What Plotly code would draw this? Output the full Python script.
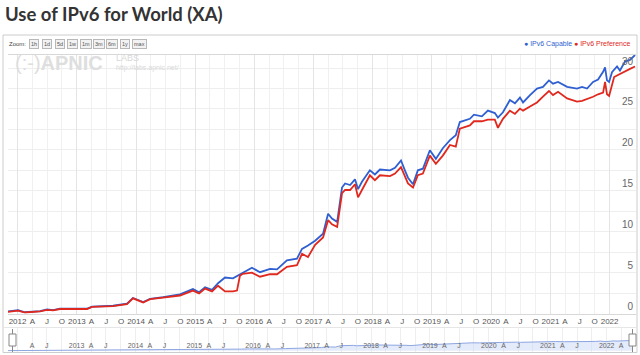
import plotly.graph_objects as go

# ---------------- data ----------------
dates = [
    "2011-11-03", "2012-01-04", "2012-02-16", "2012-05-19", "2012-07-01", "2012-08-07", "2012-09-19",
    "2013-03-05", "2013-04-05", "2013-08-12", "2013-11-06", "2013-12-13",
    "2014-02-14", "2014-03-29", "2014-06-17", "2014-09-29", "2014-12-18",
    "2015-01-25", "2015-03-03", "2015-04-15", "2015-05-22", "2015-07-04", "2015-08-22", "2015-09-16",
    "2015-10-04", "2015-10-22", "2015-12-17",
    "2016-02-05", "2016-04-07", "2016-05-20", "2016-07-20", "2016-09-20", "2016-10-21", "2016-11-27",
    "2017-01-10", "2017-02-28", "2017-03-31", "2017-04-24", "2017-05-26", "2017-06-25", "2017-07-14",
    "2017-08-14", "2017-09-13", "2017-10-02", "2017-10-26", "2017-12-14",
    "2018-01-14", "2018-02-14", "2018-04-17", "2018-05-18", "2018-06-24", "2018-07-18", "2018-08-06",
    "2018-09-06", "2018-10-06", "2018-11-06", "2018-12-19",
    "2019-01-25", "2019-03-09", "2019-04-22", "2019-05-28", "2019-06-22", "2019-08-23", "2019-09-17",
    "2019-11-05", "2019-12-12",
    "2020-01-24", "2020-02-12", "2020-03-14", "2020-04-26", "2020-05-27", "2020-06-27", "2020-07-16",
    "2020-08-28", "2020-10-10", "2020-11-16", "2020-12-23",
    "2021-01-17", "2021-02-17", "2021-04-14", "2021-06-14", "2021-07-15", "2021-08-15", "2021-09-21",
    "2021-10-22", "2021-11-22", "2021-12-04", "2021-12-16", "2021-12-29",
    "2022-01-16", "2022-01-29", "2022-02-16", "2022-03-06", "2022-04-06", "2022-05-07", "2022-06-07",
]
ipv6_capable = [
    0.25, 0.4, 0.15, 0.3, 0.5, 0.42, 0.6,
    0.6, 0.85, 0.95, 1.2, 1.9,
    1.4, 1.8, 2.0, 2.35, 3.0,
    2.6, 3.2, 2.9, 3.7, 4.4, 4.3, 4.6,
    4.8, 4.95, 5.6,
    5.05, 5.45, 5.4, 6.5, 6.7, 7.9, 8.3,
    8.9, 9.75, 12.2, 11.6, 11.2, 15.4, 15.9,
    15.7, 16.4, 15.2, 16.1, 17.5,
    17.0, 17.6, 17.5, 17.8, 18.7, 17.5, 16.6,
    15.8, 17.5, 17.7, 19.95,
    18.9, 20.2, 21.2, 21.8, 23.4, 23.8, 24.3,
    24.1, 24.8,
    24.5, 23.95, 24.6, 26.1, 25.7, 26.4, 25.8,
    26.7, 27.5, 27.7, 28.5,
    28.1, 28.3, 27.7, 27.5, 27.7, 27.5, 28.3,
    28.6, 29.55, 30.1, 28.5, 28.3,
    29.5, 29.8, 30.2, 29.7, 30.8, 31.0, 31.6,
]
ipv6_preference = [
    0.2, 0.35, 0.12, 0.27, 0.45, 0.38, 0.55,
    0.55, 0.8, 0.9, 1.15, 1.85,
    1.35, 1.75, 1.95, 2.2, 2.8,
    2.45, 3.05, 2.7, 3.4, 2.7, 2.7, 2.8,
    4.6, 4.85, 5.0,
    4.5, 4.8, 4.8, 5.7, 5.9, 7.3, 6.9,
    8.4, 9.3, 11.4, 10.9, 10.6, 14.7, 15.1,
    15.1, 15.8, 14.2, 15.1, 16.9,
    16.3, 16.9, 16.8, 17.1, 17.9, 16.9, 15.9,
    15.4, 16.9, 17.1, 19.3,
    18.3, 19.3, 20.6, 20.4, 22.6, 23.0, 23.5,
    23.5, 23.7,
    23.7, 22.7, 23.8, 24.8, 24.4, 25.05, 24.8,
    25.3, 25.8, 26.5, 27.2,
    26.7, 27.1, 26.3, 25.9, 26.0, 26.2, 26.5,
    26.8, 27.0, 28.3, 26.8, 26.6,
    27.8, 28.9, 29.1, 29.3, 29.6, 29.9, 30.2,
]
series_names = ["IPv6 Capable", "IPv6 Preference"]
years = list(range(2012, 2023))
quarter_letters = ["", "A", "J", "O"]
y_labels = [0, 5, 10, 15, 20, 25, 30]
zoom_buttons = ["1h", "1d", "5d", "1w", "1m", "3m", "6m", "1y", "max"]

# ---------------- styling ----------------
W, H = 640, 355
BLUE = "#2f5fd0"
RED = "#e0281e"
FONT = "Liberation Sans, Arial, sans-serif"

def px_x(x):
    return x / W

def px_y(y):
    return (H - y) / H

x_start, x_end = "2011-11-03", "2022-06-13"

quarter_dates, quarter_text, nav_text = [], [], []
for yr in years:
    for qi, m in enumerate([1, 4, 7, 10]):
        if yr == 2022 and m > 4:
            continue
        quarter_dates.append(f"{yr}-{m:02d}-01")
        quarter_text.append(str(yr) if qi == 0 else quarter_letters[qi])
        if qi == 0:
            nav_text.append("" if yr == 2012 else str(yr))
        elif qi == 3:
            nav_text.append("")
        else:
            nav_text.append(quarter_letters[qi])
year_dates = [f"{yr}-01-01" for yr in years]

fig = go.Figure()
fig.add_trace(go.Scatter(x=dates, y=ipv6_capable, name=series_names[0], mode="lines",
                         line=dict(color=BLUE, width=1.8), xaxis="x", yaxis="y"))
fig.add_trace(go.Scatter(x=dates, y=ipv6_preference, name=series_names[1], mode="lines",
                         line=dict(color=RED, width=1.8), xaxis="x", yaxis="y"))
# invisible carrier for the year-grid overlay axis
fig.add_trace(go.Scatter(x=dates, y=ipv6_capable, mode="lines", line=dict(width=0),
                         opacity=0, hoverinfo="skip", showlegend=False, xaxis="x3", yaxis="y"))
# navigator area
fig.add_trace(go.Scatter(x=dates, y=ipv6_capable, mode="lines", fill="tozeroy",
                         fillcolor="rgba(205,218,245,0.55)", line=dict(color="#8ea6e2", width=1),
                         hoverinfo="skip", showlegend=False, xaxis="x2", yaxis="y2"))

main_dom_y = [px_y(313.5), px_y(55)]
nav_dom_y = [px_y(352), px_y(328)]

fig.update_layout(
    width=W, height=H,
    margin=dict(l=0, r=0, t=0, b=0),
    paper_bgcolor="white", plot_bgcolor="white",
    showlegend=False,
    font=dict(family=FONT, size=8, color="#555"),
    xaxis=dict(domain=[px_x(8), px_x(636)], range=[x_start, x_end], type="date",
               tickvals=quarter_dates, ticktext=quarter_text, ticks="",
               showgrid=True, gridcolor="#f0f0f0", gridwidth=1,
               showline=True, linecolor="#d8d8d8", mirror=True,
               tickfont=dict(size=8, color="#555", family=FONT), anchor="y", zeroline=False),
    xaxis3=dict(overlaying="x", range=[x_start, x_end], type="date", anchor="y",
                tickvals=year_dates, showticklabels=False, ticks="",
                showgrid=True, gridcolor="#e4e4e4", gridwidth=1.2, zeroline=False, showline=False),
    yaxis=dict(domain=main_dom_y, range=[0, 31.6], side="right", anchor="x",
               tickvals=y_labels, ticks="", ticklabelposition="inside top",
               tickfont=dict(size=10, color="#666", family=FONT),
               showgrid=True, gridcolor="#eeeeee", zeroline=False,
               minor=dict(dtick=2.5, showgrid=True, gridcolor="#eeeeee")),
    xaxis2=dict(domain=[px_x(8), px_x(632)], range=[x_start, "2022-06-07"], type="date", anchor="y2",
                tickvals=quarter_dates, ticktext=nav_text, ticks="", ticklabelposition="inside",
                tickfont=dict(size=7, color="#666", family=FONT),
                showgrid=True, gridcolor="#eeeeee", zeroline=False, showline=False),
    yaxis2=dict(domain=nav_dom_y, range=[-4, 70], anchor="x2", showticklabels=False,
                showgrid=False, zeroline=False, ticks=""),
)

shapes = [
    # outer chart box
    dict(type="rect", xref="paper", yref="paper", x0=px_x(3), x1=px_x(637), y0=px_y(352.5), y1=px_y(35),
         line=dict(color="#cccccc", width=1), fillcolor="rgba(0,0,0,0)", layer="below"),
    # navigator separator
    dict(type="line", xref="paper", yref="paper", x0=px_x(3), x1=px_x(637), y0=px_y(327.5), y1=px_y(327.5),
         line=dict(color="#e6e6e6", width=1)),
]
# navigator handles
for hx in (12.5, 632.5):
    shapes.append(dict(type="line", xref="paper", yref="paper", x0=px_x(hx), x1=px_x(hx),
                       y0=px_y(352), y1=px_y(329), line=dict(color="#888", width=1)))
    shapes.append(dict(type="rect", xref="paper", yref="paper", x0=px_x(hx - 3.5), x1=px_x(hx + 3.5),
                       y0=px_y(346), y1=px_y(334), line=dict(color="#888", width=1), fillcolor="white"))
fig.update_layout(shapes=shapes)

ann = []
ann.append(dict(text="<b>Use of IPv6 for World (XA)</b>", xref="paper", yref="paper",
                x=px_x(3), y=px_y(14), xanchor="left", yanchor="middle", showarrow=False,
                font=dict(family="Lato, sans-serif", size=18.5, color="#333")))
ann.append(dict(text="Zoom:", xref="paper", yref="paper", x=px_x(7), y=px_y(44),
                xanchor="left", yanchor="middle", showarrow=False,
                font=dict(size=6, color="#444", family=FONT)))
bx = 29
for b in zoom_buttons:
    w = 9 if len(b) < 3 else 13
    ann.append(dict(text=b, xref="paper", yref="paper", x=px_x(bx + w / 2), y=px_y(44),
                    xanchor="center", yanchor="middle", showarrow=False,
                    font=dict(size=5.5, color="#555", family=FONT),
                    bgcolor="#f2f2f2", bordercolor="#b8b8b8", borderwidth=1, borderpad=1))
    bx += w + 4
# watermark
ann.append(dict(text="(:-)<b>APNIC</b>", xref="paper", yref="paper", x=px_x(13), y=px_y(63),
                xanchor="left", yanchor="middle", showarrow=False,
                font=dict(size=20, color="#dedede", family=FONT)))
ann.append(dict(text="LABS", xref="paper", yref="paper", x=px_x(114), y=px_y(58),
                xanchor="left", yanchor="middle", showarrow=False,
                font=dict(size=9, color="#d8d8d8", family=FONT)))
ann.append(dict(text="http://labs.apnic.net/", xref="paper", yref="paper", x=px_x(114), y=px_y(68),
                xanchor="left", yanchor="middle", showarrow=False,
                font=dict(size=7, color="#d8d8d8", family=FONT)))
# legend
ann.append(dict(text="● " + series_names[0], xref="paper", yref="paper", x=px_x(522), y=px_y(44),
                xanchor="left", yanchor="middle", showarrow=False,
                font=dict(size=7, color=BLUE, family=FONT)))
ann.append(dict(text="● " + series_names[1], xref="paper", yref="paper", x=px_x(572), y=px_y(44),
                xanchor="left", yanchor="middle", showarrow=False,
                font=dict(size=7, color=RED, family=FONT)))
fig.update_layout(annotations=ann)

fig.write_html("out.html", config={"displayModeBar": False},
               post_script="document.body.style.margin='0';document.body.style.overflow='hidden';")
